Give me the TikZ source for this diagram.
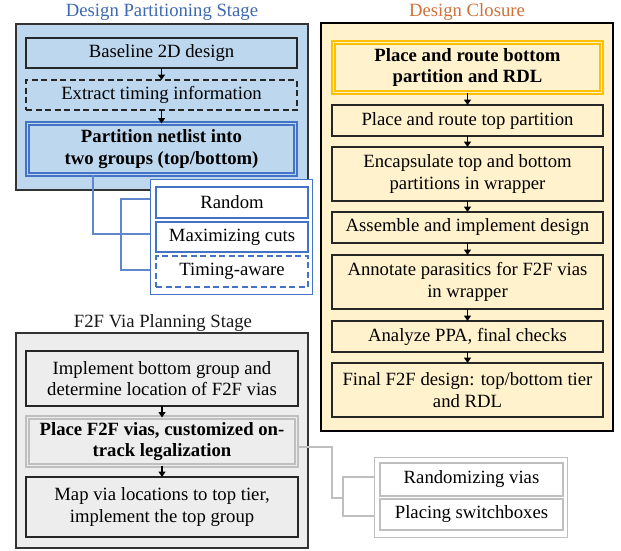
\documentclass[tikz,border=0pt]{standalone}
\usepackage{fontspec}
\setmainfont{LiberationSerif}[Extension=.ttf, UprightFont=*-Regular, BoldFont=*-Bold, ItalicFont=*-Italic, BoldItalicFont=*-BoldItalic]
\usetikzlibrary{arrows.meta}
\definecolor{bluefill}{HTML}{BDD7EE}
\definecolor{blueline}{HTML}{4472C4}
\definecolor{bluetitle}{HTML}{3D68B3}
\definecolor{orfill}{HTML}{FFF2CC}
\definecolor{goldline}{HTML}{FFC000}
\definecolor{ortitle}{HTML}{D0703A}
\definecolor{grayfill}{HTML}{EDEDED}
\definecolor{grayline}{HTML}{BFBFBF}
\definecolor{darkline}{HTML}{262626}
\definecolor{outline}{HTML}{333333}
\newcommand{\txtfont}{\fontsize{18.7}{21.7}\selectfont}
\begin{document}
\begin{tikzpicture}[x=1pt,y=-1pt,
  every node/.style={inner sep=0pt, outer sep=0pt, align=center, font=\txtfont, text=black},
  outerbox/.style={draw=outline, line width=1.3pt},
  stepbox/.style={draw=darkline, line width=1.2pt, minimum width=271pt},
  dblbox/.style={draw=#1, line width=1.2pt, double distance=1.8pt, minimum width=268pt, font=\txtfont\bfseries},
  optbox/.style={draw=blueline, line width=1.1pt, fill=white, minimum width=152pt},
  arr/.style={-{Triangle[width=7pt,length=5.5pt]}, line width=1.3pt, black},
  bcon/.style={draw=blueline!85, line width=1.3pt},
  gcon/.style={draw=grayline, line width=1.3pt},
  title/.style={font=\txtfont}
]
\useasboundingbox (0,0) rectangle (621,550);

% ---------------- Design Partitioning Stage ----------------
\node[title, text=bluetitle] (t1) at (162,12) {Design Partitioning Stage};
\node[outerbox, fill=bluefill, minimum width=292pt, minimum height=166pt] (ob1) at (162,107) {};
\node[stepbox, fill=bluefill, minimum height=30pt] (b1) at (161.5,53) {Baseline 2D design};
\node[stepbox, fill=bluefill, dashed, dash pattern=on 6pt off 3.5pt, minimum height=30pt] (b2) at (161.5,95) {Extract timing information};
\node[dblbox=blueline, double=bluefill, fill=bluefill, minimum height=51pt] (b3) at (161.5,149) {Partition netlist into\\two groups (top/bottom)};
\draw[arr] (b1) -- (b2);
\draw[arr] (b2) -- (b3);

% connector to options
\coordinate (j1) at (121,234);
\node[draw=blueline, line width=1pt, fill=white, minimum width=162pt, minimum height=115pt] (o1) at (231,236.5) {};
\draw[bcon] (b3.south -| 93,0) |- (o1.west |- j1);
\draw[bcon] (o1.west |- 0,199) -| (j1) |- (o1.west |- 0,270);
\node[optbox, minimum height=31pt] (r1) at (232,202.5) {Random};
\node[optbox, minimum height=30pt] (r2) at (232,237) {Maximizing cuts};
\node[optbox, dashed, dash pattern=on 6pt off 3.5pt, minimum height=31pt] (r3) at (232,271.5) {Timing-aware};

% ---------------- Design Closure ----------------
\node[title, text=ortitle] (t2) at (467,12) {Design Closure};
\node[outerbox, draw=black, fill=orfill, minimum width=292pt, minimum height=408pt] (ob2) at (467,227) {};
\node[dblbox=goldline, double=orfill, fill=orfill, minimum height=50pt] (c1) at (467.5,67.5) {Place and route bottom\\partition and RDL};
\node[stepbox, fill=orfill, minimum height=31pt] (c2) at (467.5,120.5) {Place and route top partition};
\node[stepbox, fill=orfill, minimum height=54pt] (c3) at (467.5,174) {Encapsulate top and bottom\\partitions in wrapper};
\node[stepbox, fill=orfill, minimum height=31pt] (c4) at (467.5,227.5) {Assemble and implement design};
\node[stepbox, fill=orfill, minimum height=54pt] (c5) at (467.5,282) {Annotate parasitics for F2F vias\\in wrapper};
\node[stepbox, fill=orfill, minimum height=31pt] (c6) at (467.5,336.5) {Analyze PPA, final checks};
\node[stepbox, fill=orfill, minimum height=54pt] (c7) at (467.5,390) {Final F2F design: top/bottom tier\\and RDL};
\draw[arr] (c1) -- (c2);
\draw[arr] (c2) -- (c3);
\draw[arr] (c3) -- (c4);
\draw[arr] (c4) -- (c5);
\draw[arr] (c5) -- (c6);
\draw[arr] (c6) -- (c7);

% ---------------- F2F Via Planning Stage ----------------
\node[title, text=black!90] (t3) at (163,323) {F2F Via Planning Stage};
\node[outerbox, fill=grayfill, minimum width=292pt, minimum height=215pt] (ob3) at (162,440.5) {};
\node[stepbox, fill=grayfill, minimum width=272pt, minimum height=55pt] (v1) at (162,378.5) {Implement bottom group and\\determine location of F2F vias};
\node[dblbox=grayline, double=grayfill, fill=grayfill, minimum width=269pt, minimum height=48pt] (v2) at (162,441.5) {Place F2F vias, customized on-\\track legalization};
\node[stepbox, fill=grayfill, minimum width=272pt, minimum height=60pt] (v3) at (162,507) {Map via locations to top tier,\\implement the top group};
\draw[arr] (v1) -- (v2);
\draw[arr] (v2) -- (v3);

\node[draw=grayline, line width=1pt, fill=white, minimum width=193pt, minimum height=80pt] (o2) at (470.5,497) {};
\coordinate (j2) at (343,498);
\draw[gcon] (v2.east |- 0,447) -| (332,498) -- (j2);
\draw[gcon] (o2.west |- 0,477) -| (j2) |- (o2.west |- 0,516);
\node[draw=grayline, line width=1.1pt, fill=white, minimum width=183pt, minimum height=33pt] (s1) at (471.5,479.5) {Randomizing vias};
\node[draw=grayline, line width=1.1pt, fill=white, minimum width=183pt, minimum height=31pt] (s2) at (471.5,514.5) {Placing switchboxes};
\end{tikzpicture}
\end{document}
